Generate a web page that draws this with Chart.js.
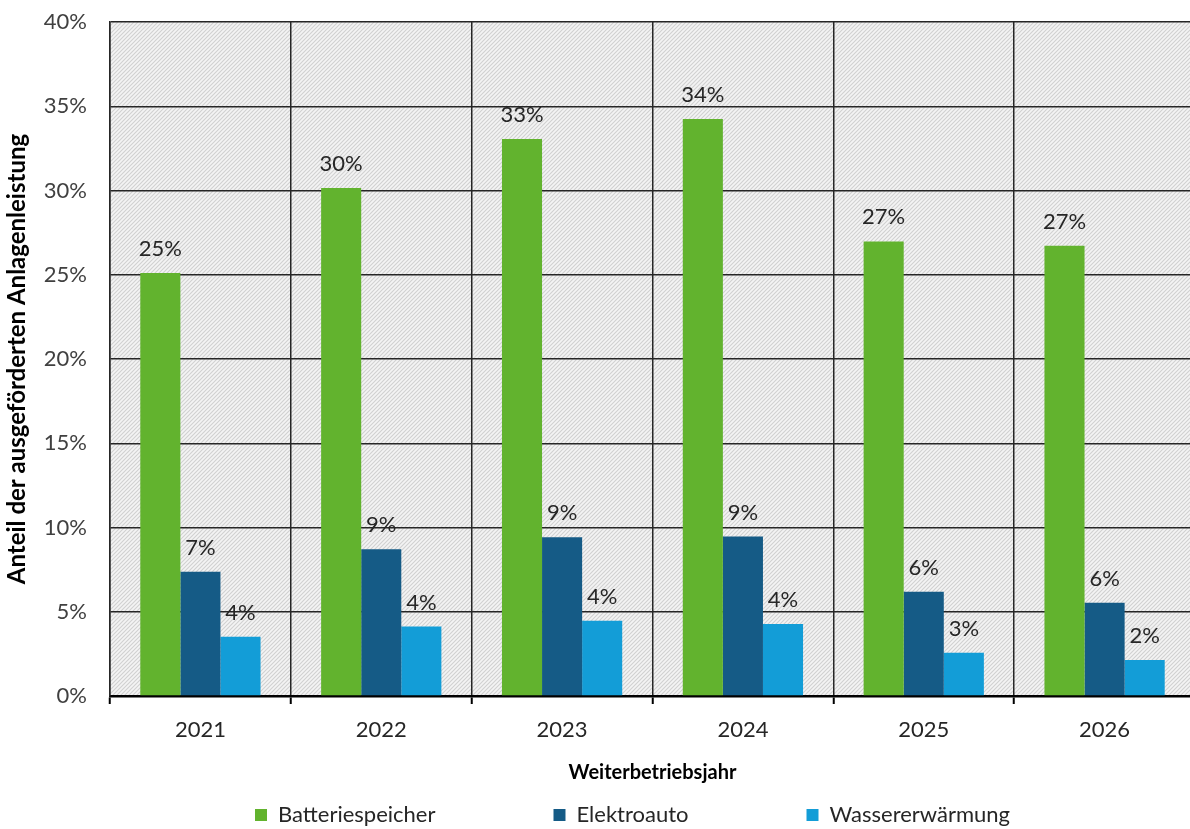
<!DOCTYPE html>
<html lang="de">
<head>
<meta charset="utf-8">
<title>Weiterbetriebsjahr</title>
<script src="https://cdn.jsdelivr.net/npm/chart.js@4.4.1/dist/chart.umd.min.js"></script>
<style>
    html, body { margin: 0; padding: 0; background: #ffffff; overflow: hidden; }
</style>
</head>
<body>
<canvas id="grafico-anteil" width="1200" height="829"></canvas>
<script>
// Anteil der ausgeförderten Anlagenleistung je Weiterbetriebsjahr (in %)
const jahre = ['2021', '2022', '2023', '2024', '2025', '2026'];
const batteriespeicher = [25.1, 30.15, 33.06, 34.25, 26.98, 26.72];
const elektroauto = [7.38, 8.71, 9.42, 9.46, 6.19, 5.54];
const wassererwaermung = [3.52, 4.12, 4.47, 4.28, 2.57, 2.14];
const yMax = 40;
const yStep = 5;

const schrift = 'Lato, "Open Sans", sans-serif';

// Schraffur für den Hintergrund der Zeichenfläche
function erzeugeSchraffur() {
    const s = 4;
    const c = document.createElement('canvas');
    c.width = s;
    c.height = s;
    const g = c.getContext('2d');
    g.fillStyle = '#f4f4f4';
    g.fillRect(0, 0, s, s);
    g.strokeStyle = '#d0d0d0';
    g.lineWidth = 1.1;
    g.beginPath();
    g.moveTo(0, s); g.lineTo(s, 0);
    g.moveTo(-1, 1); g.lineTo(1, -1);
    g.moveTo(s - 1, s + 1); g.lineTo(s + 1, s - 1);
    g.stroke();
    return g.createPattern(c, 'repeat');
}

const hintergrund = {
    id: 'hintergrund',
    beforeDraw(chart) {
        const { ctx, chartArea: a } = chart;
        ctx.save();
        ctx.fillStyle = erzeugeSchraffur();
        ctx.fillRect(a.left, a.top, a.right - a.left, a.bottom - a.top);
        ctx.restore();
    }
};

// Prozentwerte über den Balken
const wertBeschriftung = {
    id: 'wertBeschriftung',
    afterDatasetsDraw(chart) {
        const ctx = chart.ctx;
        ctx.save();
        ctx.font = '22px ' + schrift;
        ctx.fillStyle = '#262626';
        ctx.textAlign = 'center';
        ctx.textBaseline = 'alphabetic';
        chart.data.datasets.forEach((ds, i) => {
            chart.getDatasetMeta(i).data.forEach((balken, j) => {
                ctx.fillText(Math.round(ds.data[j]) + '%', balken.x, balken.y - 17);
            });
        });
        ctx.restore();
    }
};

// Legende: breite Abstände zwischen den Einträgen, aber flache Box,
// etwas nach rechts unter die Mitte der Zeichenfläche gerückt
const legendeLage = {
    id: 'legendeLage',
    beforeUpdate(chart) {
        const legende = chart.legend;
        if (!legende || legende._flach) return;
        const fit = legende.fit;
        legende.fit = function () {
            fit.call(this);
            this.height = 36;
        };
        legende._flach = true;
    },
    afterLayout(chart) {
        const l = chart.legend;
        const pad = l.options.labels.padding;
        const dx = 35;
        l.top = 804 - pad;
        l.left += dx;
        l.right += dx;
    }
};

const ctx = document.getElementById('grafico-anteil');

const graficoAnteil = new Chart(ctx, {
    type: 'bar',
    data: {
        labels: jahre,
        datasets: [{
            label: 'Batteriespeicher',
            data: batteriespeicher,
            backgroundColor: '#62b32e'
        }, {
            label: 'Elektroauto',
            data: elektroauto,
            backgroundColor: '#155b86'
        }, {
            label: 'Wassererwärmung',
            data: wassererwaermung,
            backgroundColor: '#139dd7'
        }]
    },
    options: {
        responsive: false,
        animation: false,
        categoryPercentage: 0.665,
        barPercentage: 1.0,
        layout: {
            padding: { top: 22, right: 5, left: 0, bottom: 0 }
        },
        plugins: {
            tooltip: { enabled: false },
            legend: {
                position: 'bottom',
                labels: {
                    font: { family: schrift, size: 22 },
                    color: '#262626',
                    boxWidth: 12,
                    boxHeight: 12,
                    padding: 118
                }
            }
        },
        scales: {
            x: {
                afterFit(scale) { scale.height = 97; },
                grid: {
                    offset: true,
                    color: '#262626',
                    lineWidth: 1.5,
                    tickLength: 8,
                    tickColor: '#000000',
                    tickWidth: 2
                },
                border: { color: '#000000', width: 2.5 },
                ticks: {
                    font: { family: schrift, size: 22 },
                    color: '#262626',
                    padding: 13
                },
                title: {
                    display: true,
                    text: 'Weiterbetriebsjahr',
                    font: { family: schrift, size: 20, weight: 'bold' },
                    color: '#000000',
                    padding: { top: 4, bottom: 8 }
                }
            },
            y: {
                min: 0,
                max: yMax,
                afterFit(scale) {
                    scale.width = 110;
                    scale.paddingTop = 0;
                    scale.paddingBottom = 0;
                },
                grid: {
                    color: '#262626',
                    lineWidth: 1.5,
                    drawTicks: false
                },
                border: { color: '#262626', width: 1.5 },
                ticks: {
                    stepSize: yStep,
                    font: { family: schrift, size: 22 },
                    color: '#404040',
                    padding: 23,
                    callback: (v) => v + '%'
                },
                title: {
                    display: true,
                    text: 'Anteil der ausgeförderten Anlagenleistung',
                    font: { family: schrift, size: 24, weight: 'bold' },
                    color: '#000000',
                    padding: { top: 3, bottom: 0 }
                }
            }
        }
    },
    plugins: [hintergrund, wertBeschriftung, legendeLage]
});
</script>
</body>
</html>
